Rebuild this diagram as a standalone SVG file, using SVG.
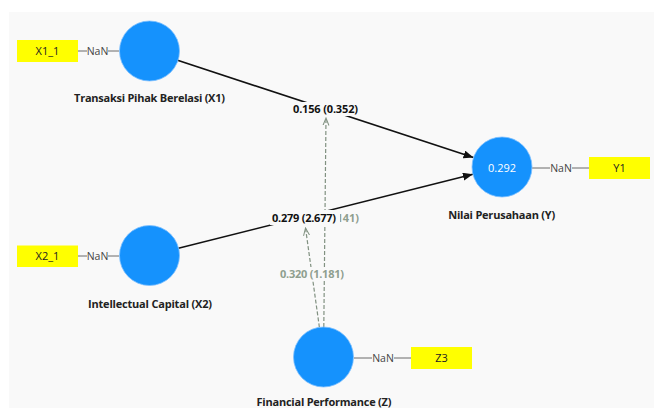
<svg xmlns="http://www.w3.org/2000/svg" width="654" height="408" viewBox="0 0 654 408">
  <style>
    .bg { fill: #f9f9f9; }
    .lv { fill: #1592fd; stroke: #7fc0ff; stroke-width: 0.8; }
    .ind { fill: #ffff00; }
    .ind-t { font-family: "Open Sans", "Noto Sans", sans-serif; font-size: 11px; fill: #222; text-anchor: middle; }
    .nan { font-family: "Open Sans", "Noto Sans", sans-serif; font-size: 10.5px; fill: #444; text-anchor: middle; }
    .load { stroke: #6a6a6a; stroke-width: 1; fill: none; }
    .name { font-family: "Open Sans", "Noto Sans", sans-serif; font-size: 11px; font-weight: bold; fill: #222; text-anchor: middle; }
    .r2 { font-family: "Open Sans", "Noto Sans", sans-serif; font-size: 11px; fill: #fff; text-anchor: middle; }
    .path { stroke: #111; stroke-width: 1.6; fill: none; marker-end: url(#head); }
    .mod { stroke: #819181; stroke-width: 1.2; fill: none; stroke-dasharray: 4 2; marker-end: url(#openhead); }
    .coef { font-family: "Open Sans", "Noto Sans", sans-serif; font-size: 11px; font-weight: bold; fill: #111; text-anchor: middle; }
    .coef-m { font-family: "Open Sans", "Noto Sans", sans-serif; font-size: 11px; font-weight: bold; fill: #8f9f8f; text-anchor: middle; }
    .lbl-bg { fill: #f9f9f9; }
  </style>
  <defs>
    <marker id="head" viewBox="0 0 10 8" refX="10" refY="4" markerWidth="10" markerHeight="8" markerUnits="userSpaceOnUse" orient="auto">
      <path d="M0,0 L10,4 L0,8 Z" fill="#111"/>
    </marker>
    <marker id="openhead" viewBox="0 0 8 8" refX="7.5" refY="4" markerWidth="8" markerHeight="8" markerUnits="userSpaceOnUse" orient="auto">
      <path d="M0,1 L7.5,4 L0,7" fill="none" stroke="#819181" stroke-width="1"/>
    </marker>
  </defs>

  <rect class="bg" x="9" y="12" width="645" height="396"/>

  <!-- structural paths and moderating effects -->
  <g id="connectors">
    <line class="path" x1="149.5" y1="51" x2="473.5" y2="157.6"/>
    <line class="path" x1="149.5" y1="255.5" x2="472.9" y2="174.3"/>
    <line class="mod" x1="323.8" y1="327" x2="326" y2="118"/>
    <line class="mod" x1="319.4" y1="327.3" x2="305.5" y2="228"/>

    <!-- indicator links -->
    <line class="load" x1="78" y1="51" x2="87" y2="51"/>
    <line class="load" x1="108" y1="51" x2="119" y2="51"/>
    <line class="load" x1="78" y1="256" x2="87" y2="256"/>
    <line class="load" x1="108" y1="256" x2="119" y2="256"/>
    <line class="load" x1="532" y1="168" x2="550" y2="168"/>
    <line class="load" x1="572" y1="168" x2="589" y2="168"/>
    <line class="load" x1="354" y1="358" x2="372" y2="358"/>
    <line class="load" x1="394" y1="358" x2="411" y2="358"/>
    <text class="nan" x="97.5" y="55">NaN</text>
    <text class="nan" x="97.5" y="260">NaN</text>
    <text class="nan" x="561" y="172">NaN</text>
    <text class="nan" x="383" y="362">NaN</text>
  </g>

  <!-- path coefficient labels -->
  <g id="coef-labels">
    <rect class="lbl-bg" x="291" y="102" width="69" height="14"/>
    <text class="coef" x="325.5" y="113" textLength="65">0.156 (0.352)</text>

    <rect class="lbl-bg" x="292" y="210" width="68" height="15"/>
    <text class="coef-m" x="359" y="222" style="text-anchor:end">141)</text>

    <rect class="lbl-bg" x="270" y="210" width="70" height="15"/>
    <text class="coef" x="304" y="222" textLength="64">0.279 (2.677)</text>

    <rect class="lbl-bg" x="279" y="267" width="66" height="14"/>
    <text class="coef-m" x="312" y="278" textLength="64">0.320 (1.181)</text>
  </g>

  <g id="X1">
    <circle class="lv" cx="149.5" cy="51" r="30"/>
    <text class="name" x="149.5" y="102" textLength="151">Transaksi Pihak Berelasi (X1)</text>
  </g>
  <g id="X1_1">
    <rect class="ind" x="17" y="40" width="61" height="22"/>
    <text class="ind-t" x="47.5" y="55">X1_1</text>
  </g>

  <g id="X2">
    <circle class="lv" cx="149.5" cy="255.5" r="30"/>
    <text class="name" x="150" y="308" textLength="124">Intellectual Capital (X2)</text>
  </g>
  <g id="X2_1">
    <rect class="ind" x="17" y="245.5" width="61" height="21.5"/>
    <text class="ind-t" x="47.5" y="260">X2_1</text>
  </g>

  <g id="Y">
    <circle class="lv" cx="502" cy="167" r="30"/>
    <text class="r2" x="502" y="171.5">0.292</text>
    <text class="name" x="501.7" y="219" textLength="107">Nilai Perusahaan (Y)</text>
  </g>
  <g id="Y1">
    <rect class="ind" x="589" y="157" width="61" height="22"/>
    <text class="ind-t" x="619.5" y="172">Y1</text>
  </g>

  <g id="Z">
    <circle class="lv" cx="323.5" cy="357" r="30"/>
    <text class="name" x="324" y="405.5" textLength="135">Financial Performance (Z)</text>
  </g>
  <g id="Z3">
    <rect class="ind" x="411" y="347" width="61" height="22"/>
    <text class="ind-t" x="441.5" y="362">Z3</text>
  </g>
</svg>
